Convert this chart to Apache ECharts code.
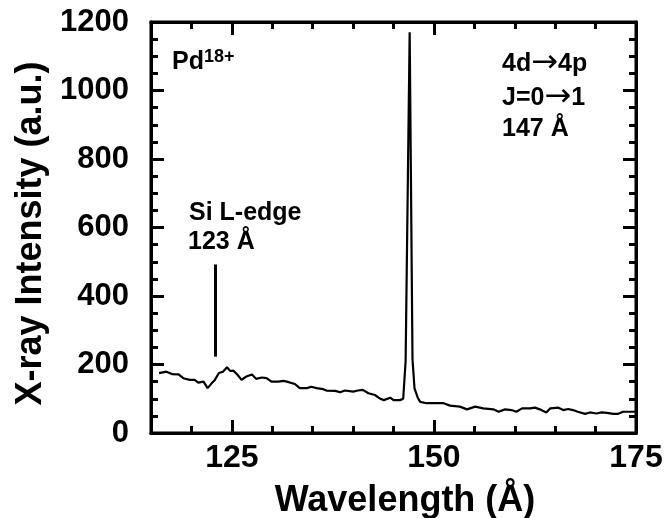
<!DOCTYPE html>
<html lang="en">
<head>
    <title>Pd18+ X-ray spectrum</title>
    <meta charset="utf-8">
    <script src="https://cdn.jsdelivr.net/npm/echarts@6/dist/echarts.min.js"></script>
    <style>
        html, body { margin: 0; padding: 0; background: #fff; }
        #chart { width: 665px; height: 518px; }
    </style>
</head>
<body>
    <div id="chart"></div>
    <script type="text/javascript">
        // spectrum
        var wavelength = [116.0, 116.9, 117.6, 118.4, 119.0, 119.8, 120.4, 120.85, 121.5, 122.0, 122.5, 122.9, 123.4, 123.9, 124.4, 124.8, 125.2, 125.7, 126.2, 126.8, 127.5, 128.0, 128.7, 129.3, 129.9, 130.75, 131.4, 131.8, 132.8, 133.4, 134.3, 134.8, 135.5, 136.3, 136.7, 137.8, 138.4, 139.0, 140.0, 140.6, 141.2, 141.9, 142.7, 143.3, 143.8, 144.6, 145.0, 145.8, 146.2, 146.5, 147.0, 147.35, 147.6, 148.0, 148.3, 149.1, 151.2, 152.0, 153.2, 154.1, 155.1, 156.1, 157.35, 158.0, 158.8, 159.6, 160.2, 160.9, 161.9, 162.5, 163.1, 163.9, 164.4, 165.4, 166.0, 166.6, 167.2, 167.8, 168.7, 169.3, 170.1, 170.75, 171.4, 172.2, 172.8, 173.4, 174.3, 175.0];
        var intensity = [175, 179, 172, 171, 160, 155, 155, 147, 150, 131, 145, 155, 175, 179, 192, 181, 182, 170, 155, 165, 171, 158, 162, 160, 150, 150, 152, 150, 143, 131, 131, 135, 131, 128, 124, 123, 119, 124, 121, 124, 126, 116, 111, 101, 96, 103, 96, 96, 100, 210, 1170, 215, 130, 103, 91, 87, 87, 80, 77, 69, 77, 72, 69, 62, 69, 67, 62, 72, 72, 74, 69, 60, 72, 74, 67, 70, 67, 62, 56, 60, 57, 60, 59, 56, 56, 62, 62, 62];
        var xMajor = [125, 150, 175];
        var xMinor = [120, 130, 135, 140, 145, 155, 160, 165, 170];
        var edgeMarker = [123, 223, 492]; // Si L-edge: x, y from, y to

        var FONT = '"Liberation Sans", Arial, Helvetica, sans-serif';
        var chart = echarts.init(document.getElementById('chart'));

        function xAxisDef(pos, ticks, len, withLabels) {
            return {
                gridIndex: 0, type: 'value', position: pos, min: 115, max: 175, interval: 5,
                axisLine: { show: true, onZero: false, lineStyle: { color: '#000', width: 3 } },
                axisTick: { show: true, inside: true, length: len, customValues: ticks, lineStyle: { color: '#000', width: 3 } },
                axisLabel: withLabels ? {
                    show: true, customValues: xMajor, color: '#000', fontFamily: FONT, fontWeight: 'bold', fontSize: 32, margin: 9,
                    formatter: function (v) { return String(v); }
                } : { show: false },
                splitLine: { show: false }
            };
        }
        function yAxisDef(pos, withLabels) {
            return {
                gridIndex: 0, type: 'value', position: pos, min: 0, max: 1200, interval: 200,
                axisLine: { show: true, onZero: false, lineStyle: { color: '#000', width: 3 } },
                axisTick: { show: true, inside: true, length: 13, lineStyle: { color: '#000', width: 3 } },
                minorTick: { show: true, splitNumber: 4, length: 7, lineStyle: { color: '#000', width: 3 } },
                axisLabel: withLabels ? {
                    show: true, color: '#000', fontFamily: FONT, fontWeight: 'bold', fontSize: 31, margin: 22,
                    formatter: function (v) { return String(v); }
                } : { show: false },
                splitLine: { show: false }
            };
        }

        var xBottom = xAxisDef('bottom', xMinor, 7, true);
        xBottom.name = 'Wavelength (Å)';
        xBottom.nameLocation = 'middle';
        xBottom.nameGap = 50;
        xBottom.nameTextStyle = { color: '#000', fontFamily: FONT, fontWeight: 'bold', fontSize: 36, padding: [0, 0, 0, 23] };

        var yLeft = yAxisDef('left', true);
        yLeft.name = 'X-ray Intensity (a.u.)';
        yLeft.nameLocation = 'middle';
        yLeft.nameGap = 100;
        yLeft.nameTextStyle = { color: '#000', fontFamily: FONT, fontWeight: 'bold', fontSize: 36, padding: [0, 12, 0, 0] };

        var arrowRich = { a: { fontFamily: '"DejaVu Sans", sans-serif', fontWeight: 'normal', fontSize: 32, fill: '#000' } };
        function label(txt, x, y, size, rich) {
            var st = { text: txt, fill: '#000', font: 'bold ' + (size || 25) + 'px ' + FONT };
            if (rich) st.rich = rich;
            return { type: 'text', x: x, y: y, silent: true, style: st };
        }

        var option = {
            animation: false,
            backgroundColor: '#fff',
            title: { show: false, text: '' },
            grid: [
                { left: 151, right: 29, top: 22, bottom: 85, outerBoundsMode: 'none', show: true, borderColor: '#000', borderWidth: 3, backgroundColor: 'transparent' },
                // unused helper grid kept out of view
                { left: -200, top: -200, width: 20, height: 20, outerBoundsMode: 'none' }
            ],
            xAxis: [
                xBottom,
                xAxisDef('bottom', xMajor, 13, false),
                xAxisDef('top', xMinor, 7, false),
                xAxisDef('top', xMajor, 13, false),
                { gridIndex: 1, type: 'value', show: false }
            ],
            yAxis: [yLeft, yAxisDef('right', false), { gridIndex: 1, type: 'value', show: false }],
            graphic: [
                label('Pd', 172, 50),
                label('18+', 204, 48, 18),
                label('4d{a|\u2192}4p', 502, 48, 25, arrowRich),
                label('J=0{a|\u2192}1', 502, 82, 25, arrowRich),
                label('147 Å', 502, 117),
                label('Si L-edge', 189, 201),
                label('123 Å', 188, 230)
            ],
            series: [{
                type: 'line',
                xAxisIndex: 0,
                yAxisIndex: 0,
                data: wavelength.map(function (w, i) { return [w, intensity[i]]; }),
                symbol: 'none',
                lineStyle: { color: '#000', width: 2.2 },
                markLine: {
                    silent: true,
                    symbol: 'none',
                    label: { show: false },
                    lineStyle: { color: '#000', width: 3, type: 'solid' },
                    data: [[{ coord: [edgeMarker[0], edgeMarker[1]] }, { coord: [edgeMarker[0], edgeMarker[2]] }]]
                }
            }]
        };
        chart.setOption(option);
    </script>
</body>
</html>
